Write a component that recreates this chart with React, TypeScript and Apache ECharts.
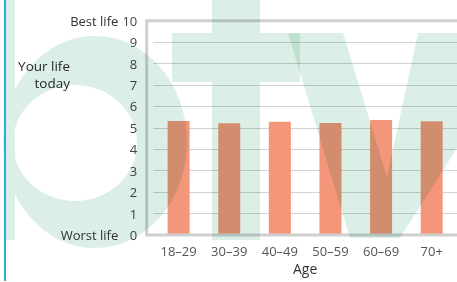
import React, { useEffect, useRef } from "react";
import * as echarts from "echarts";

const categories = ["18–29", "30–39", "40–49", "50–59", "60–69", "70+"];
const lifeScores = [5.32, 5.21, 5.29, 5.23, 5.37, 5.31];
const yMin = 0;
const yMax = 10;
const yStep = 1;
const topLabel = "Best life";
const bottomLabel = "Worst life";
const yTitleLines = ["Your life", "today"];
const xTitle = "Age";

const FONT = "'Open Sans', 'DejaVu Sans', sans-serif";
const WM_KEY = "138,201,172";

let registered = false;
function registerShapes() {
  if (registered) return;
  registered = true;
  const bPath =
    "M6,0 L15,0 L15,240 L6,240 Z " +
    "M3,142 A92,106 0 1 1 187,142 A92,106 0 1 1 3,142 Z " +
    "M13,143 A62,58 0 1 0 137,143 A62,58 0 1 0 13,143 Z";
  const tPath = "M212,0 L260,0 L260,33 L300,33 L300,82 L260,82 L260,240 L212,240 L212,82 L172,82 L172,33 L212,33 Z";
  const wPath = "M288,33 L343,33 L387,177 L418,33 L530,33 L400,238 L350,238 Z";
  echarts.graphic.registerShape("wmB", echarts.graphic.extendPath(bPath, {}));
  echarts.graphic.registerShape("wmT", echarts.graphic.extendPath(tPath, {}));
  echarts.graphic.registerShape("wmW", echarts.graphic.extendPath(wPath, {}));
}

export default function App() {
  const ref = useRef<HTMLDivElement>(null);
  useEffect(() => {
    document.body.style.margin = "0";
    registerShapes();
    const chart = echarts.init(ref.current!, undefined, { renderer: "svg" });
    const wmStyle = { fill: "rgba(" + WM_KEY + ",0.3)" } as any;
    const applyBlend = () => {
      const root = ref.current;
      if (!root) return;
      root.querySelectorAll("path").forEach((p) => {
        const f = (p.getAttribute("fill") || "").replace(/\s/g, "");
        if (f.indexOf(WM_KEY) >= 0 || f === "#8ac9ac") {
          (p as any).style.mixBlendMode = "multiply";
        }
      });
    };
    chart.on("finished", applyBlend);
    chart.setOption({
      animation: false,
      backgroundColor: "#ffffff",
      textStyle: { fontFamily: FONT },
      grid: { left: 153.3, top: 20.7, width: 308.4, bottom: 47 },
      xAxis: {
        type: "category",
        data: categories,
        axisLine: { show: false },
        axisTick: { show: false },
        axisLabel: { color: "#555555", fontSize: 13, margin: 9, fontFamily: FONT },
        name: xTitle,
        nameLocation: "middle",
        nameGap: 24,
        nameTextStyle: { color: "#333333", fontSize: 14, fontFamily: FONT },
      },
      yAxis: {
        type: "value",
        min: yMin,
        max: yMax,
        interval: yStep,
        offset: 6,
        axisLine: { show: false },
        axisTick: { show: false },
        splitLine: { lineStyle: { color: "#d2d2d2", width: 1 } },
        axisLabel: {
          margin: 10,
          formatter: (v: number) => {
            if (v === yMax) return "{t|" + topLabel + "}{n|" + v + "}";
            if (v === yMin) return "{t|" + bottomLabel + "}{n|" + v + "}";
            return "{n|" + v + "}";
          },
          rich: {
            t: { color: "#333333", fontSize: 13, fontFamily: FONT },
            n: { color: "#444444", fontSize: 13, fontFamily: FONT, width: 19, align: "right" },
          },
        },
      },
      series: [
        {
          type: "bar",
          data: lifeScores,
          barWidth: 22,
          itemStyle: { color: "#f4967a" },
        },
      ],
      graphic: [
        {
          type: "rect",
          z: 50,
          silent: true,
          shape: { x: 146.7, y: 20.7, width: 340, height: 214.3 },
          style: { fill: "none", stroke: "#cfcfcf", lineWidth: 3 },
        },
        ...yTitleLines.map((line, i) => ({
          type: "text",
          z: 60,
          x: 70,
          y: 66 + i * 17,
          style: {
            text: line,
            textAlign: "right",
            textVerticalAlign: "middle",
            fill: "#2a2a2a",
            font: "500 13.5px " + FONT,
            lineHeight: 16,
          },
        })),
        { type: "wmB", z: 100, silent: true, style: wmStyle },
        { type: "wmT", z: 100, silent: true, style: wmStyle },
        { type: "wmW", z: 100, silent: true, style: wmStyle },
        {
          type: "line",
          z: 110,
          silent: true,
          shape: { x1: 5, y1: 0, x2: 5, y2: 281 },
          style: { stroke: "#2ab4cc", lineWidth: 2 },
        },
      ],
    });
    applyBlend();
    const t = setTimeout(applyBlend, 50);
    return () => {
      clearTimeout(t);
      chart.dispose();
    };
  }, []);
  return <div ref={ref} style={{ width: 457, height: 282 }} />;
}
